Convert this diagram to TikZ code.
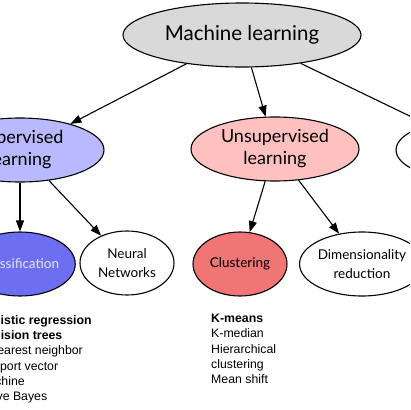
\documentclass[tikz,border=0pt]{standalone}
\usepackage{fontspec}
\setmainfont{Lato}
\newfontfamily\listfont{Liberation Sans}
\usetikzlibrary{shapes.geometric,arrows.meta}
\definecolor{mlgray}{HTML}{D9D9D9}
\definecolor{suplight}{HTML}{B9B9FF}
\definecolor{clsblue}{HTML}{6E6EF0}
\definecolor{clstext}{HTML}{E4E4FF}
\definecolor{unsuplight}{HTML}{FFC0C0}
\definecolor{clured}{HTML}{F07575}
\begin{document}
\begin{tikzpicture}[x=1pt,y=-1pt,
  ell/.style={ellipse, draw=black, line width=1.1pt, inner sep=0pt, align=center},
  big/.style={ell, minimum width=238pt, minimum height=64pt, font=\fontsize{20.5}{24}\selectfont},
  mid/.style={ell, minimum width=168pt, minimum height=64pt, font=\fontsize{18}{22}\selectfont},
  small/.style={ell, minimum width=94pt, minimum height=64pt, font=\fontsize{13.5}{19}\selectfont},
  arr/.style={-{Triangle[length=11pt,width=8pt]}, line width=1.1pt},
  lst/.style={anchor=north west, align=left, inner sep=0pt, font=\listfont\fontsize{12.3}{15.3}\selectfont}
]
\useasboundingbox (0,0) rectangle (410,410);
\clip (0,0) rectangle (410,410);
\fill[white] (0,0) rectangle (410,410);

\node[big, fill=mlgray] (ml) at (242,35) {Machine learning};
\node[mid, fill=suplight] (sup) at (20,150) {Supervised\\learning};
\node[mid, fill=unsuplight] (uns) at (275,149) {Unsupervised\\learning};
\node[mid, fill=white] (rl) at (480,150) {Reinforcement\\learning};

\node[small, fill=clsblue, text=clstext] (cls) at (20,264) {Classification};
\node[small, fill=white] (nn) at (127,263) {Neural\\Networks};
\node[small, fill=clured] (clu) at (240,264) {Clustering};
\node[small, fill=white, minimum width=102pt] (dim) at (362,264) {Dimensionality\\reduction};

\draw[arr] (ml) -- (sup);
\draw[arr] (ml) -- (uns);
\draw[arr] (ml) -- (rl);
\draw[arr] (sup) -- (cls);
\draw[arr] (sup) -- (nn);
\draw[arr] (uns) -- (clu);
\draw[arr] (uns) -- (dim);

\node[lst] (slist) at (-22,315) {\textbf{Logistic regression}\\\textbf{Decision trees}\\K-nearest neighbor\\Support vector\\machine\\Naive Bayes};
\node[lst] (ulist) at (211,314) {\textbf{K-means}\\K-median\\Hierarchical\\clustering\\Mean shift};
\end{tikzpicture}
\end{document}
